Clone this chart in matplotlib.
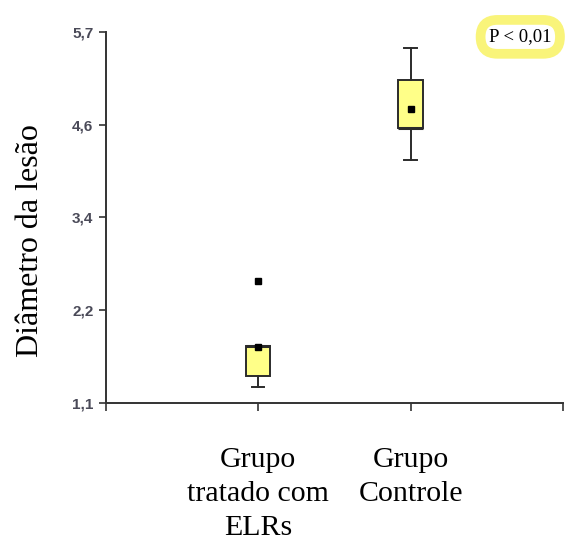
import numpy as np
import matplotlib
matplotlib.use('Agg')
import matplotlib.pyplot as plt

# values
groups = ['Grupo\ntratado com\nELRs', 'Grupo\nControle']
q1 = [1.43, 4.51]
q3 = [1.81, 5.10]
med = [1.81, 4.51]
whislo = [1.30, 4.11]
whishi = [1.81, 5.50]
means = [1.80, 4.75]
fliers = [[2.61], []]
yticks = np.linspace(1.1, 5.7, 5)
ytick_labels = ['1,1', '2,2', '3,4', '4,6', '5,7']

stats = []
for i in range(len(groups)):
    stats.append(dict(q1=q1[i], q3=q3[i], med=med[i], whislo=whislo[i],
                      whishi=whishi[i], mean=means[i], fliers=fliers[i]))

fig = plt.figure(figsize=(5.68, 5.42), dpi=100)
ax = fig.add_axes([0.1866, 0.2565, 0.8044, 0.6845])

line_c = '#2b2b2b'
ax.bxp(stats, positions=[1, 2], widths=0.16, showmeans=True, patch_artist=True,
       boxprops=dict(facecolor='#ffff88', edgecolor=line_c, linewidth=1.4),
       medianprops=dict(color=line_c, linewidth=2.2),
       whiskerprops=dict(color=line_c, linewidth=1.4),
       capprops=dict(color=line_c, linewidth=1.4),
       meanprops=dict(marker='s', markerfacecolor='black', markeredgecolor='black', markersize=5),
       flierprops=dict(marker='s', markerfacecolor='black', markeredgecolor='black', markersize=5))

ax.set_xlim(0, 3)
ax.set_ylim(1.1, 5.7)
for s in ['top', 'right']:
    ax.spines[s].set_visible(False)
for s in ['left', 'bottom']:
    ax.spines[s].set_color('#333333')
    ax.spines[s].set_linewidth(1.4)

ax.set_yticks(yticks)
ax.set_yticklabels(ytick_labels, fontfamily='Liberation Sans', fontweight='bold',
                   fontsize=11, color='#4a4a58')
ax.tick_params(axis='y', length=5, width=1.2, color='#333333', pad=4)

ax.set_xticks([0, 1, 2, 3])
ax.set_xticklabels([''] + groups + [''], fontfamily='Liberation Serif', fontsize=21.5,
                   linespacing=1.4)
ax.tick_params(axis='x', length=5.5, width=1.2, color='#333333', pad=26)

fig.text(0.054, 0.557, 'Diâmetro da lesão', rotation=90, ha='center', va='center',
         fontfamily='Liberation Serif', fontsize=23)

fig.text(0.916, 0.932, 'P < 0,01', ha='center', va='center',
         fontfamily='Liberation Serif', fontsize=13.5,
         bbox=dict(boxstyle='round,pad=0.45,rounding_size=0.9', facecolor='white',
                   edgecolor='#f9f47a', linewidth=7))

fig.savefig('out.png', dpi=100)
